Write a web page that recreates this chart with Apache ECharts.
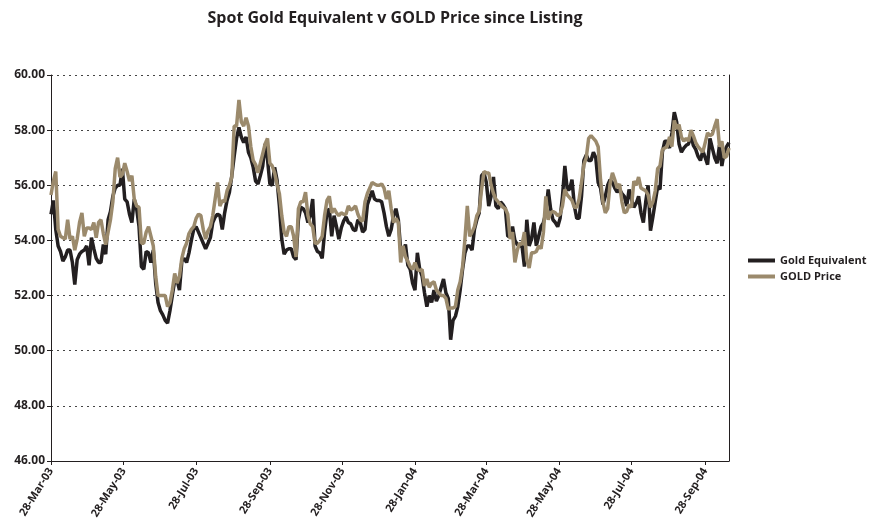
<!DOCTYPE html>
<html>
<head>
<meta charset="utf-8">
<script src="https://cdn.jsdelivr.net/npm/echarts@6/dist/echarts.min.js"></script>
<style>
html,body{margin:0;padding:0;background:#fff;}
#chart{width:870px;height:526px;}
</style>
</head>
<body>
<div id="chart"></div>
<script>
// Sampling: every 2 calendar days starting at listing date
const startDate = '28-Mar-03';
const stepDays = 2;
const endDay = 570;

const tickLabels = ['28-Mar-03','28-May-03','28-Jul-03','28-Sep-03','28-Nov-03','28-Jan-04','28-Mar-04','28-May-04','28-Jul-04','28-Sep-04'];

const goldEquivalent = [
54.95,55.45,54.4,53.8,53.6,53.25,53.4,53.65,53.65,53.2,
52.4,53.3,53.5,53.6,53.65,53.8,53.1,54.1,53.7,53.35,
53.2,53.2,53.85,53.5,54.75,55.05,55.6,55.9,56.0,56.0,
56.6,55.5,55.4,54.95,54.65,55.5,55.15,54.5,53.05,52.95,
53.6,53.55,53.2,53.65,52.45,51.75,51.45,51.3,51.1,51.0,
51.45,52.0,52.55,52.55,52.2,53.25,53.35,53.2,53.55,54.0,
54.4,54.5,54.3,54.1,53.9,53.7,53.9,54.1,54.65,54.85,
54.95,54.9,54.4,55.0,55.45,55.75,56.35,57.05,57.7,58.1,
57.75,57.55,57.75,57.2,57.0,56.65,56.15,56.05,56.35,56.7,
57.5,56.95,56.05,56.0,56.65,56.2,55.25,54.05,53.5,53.65,
53.7,53.7,53.4,53.3,54.75,55.2,55.15,55.0,54.65,54.9,
55.5,53.8,53.6,53.55,53.35,54.3,55.0,55.15,54.15,54.9,
54.5,54.05,54.45,54.7,54.85,54.65,54.6,54.4,54.35,54.75,
54.65,54.3,54.4,55.3,55.55,55.8,55.5,55.45,55.45,55.4,
55.0,54.5,54.15,
54.4,54.9,55.15,54.75,53.65,53.55,53.85,53.1,52.95,52.45,
52.2,53.55,52.95,52.7,52.1,51.6,52.0,51.75,52.2,51.8,
52.0,52.3,52.6,52.1,51.9,50.4,51.1,51.25,51.6,52.2,
52.95,53.55,53.8,53.8,53.65,54.4,54.75,55.0,56.35,56.45,
56.1,55.25,55.6,56.3,55.25,55.15,55.4,55.3,55.15,54.15,
54.15,54.5,54.0,53.85,53.8,53.8,53.05,54.75,53.8,54.05,
54.65,53.8,54.15,54.5,54.65,55.0,55.85,55.15,54.75,54.65,
54.5,54.8,55.6,56.7,55.85,55.85,56.2,55.25,54.8,54.8,
55.6,56.9,57.1,56.9,56.9,57.2,57.0,56.1,55.9,55.3,
55.6,56.0,56.2,56.1,55.9,55.75,55.85,55.7,
55.6,55.25,55.85,55.5,55.2,55.35,55.6,55.0,54.65,55.4,
56.0,54.35,54.85,55.4,55.95,55.85,57.2,57.6,57.6,57.35,
57.9,58.65,58.3,57.5,57.2,57.35,57.45,57.5,57.85,57.45,
57.3,57.05,56.9,57.25,57.0,56.75,57.7,57.35,57.0,56.8,
57.45,56.7,57.2,57.4,57.55
];
const goldPrice = [
55.65,56.15,56.5,54.4,54.15,54.1,54.05,54.75,54.05,54.15,
53.65,54.05,54.65,55.0,54.15,54.45,54.45,54.4,54.65,54.1,
54.65,54.75,54.25,53.85,54.3,54.75,55.4,56.6,57.0,56.3,
56.4,56.8,56.5,56.15,56.35,55.5,55.25,55.2,53.9,53.9,
54.3,54.5,54.15,53.8,52.7,52.0,52.0,52.0,52.0,51.6,
51.75,52.2,52.8,52.45,52.7,53.35,53.7,53.9,54.25,54.4,
54.5,54.8,54.95,54.9,54.4,54.05,54.35,54.5,54.9,55.5,
56.1,55.25,55.45,55.4,55.8,56.0,56.3,58.15,58.15,59.1,
58.3,58.15,58.45,58.15,57.4,56.9,56.75,56.45,56.8,57.15,
57.5,57.7,56.8,56.7,56.45,56.05,55.7,54.9,54.3,54.15,
54.5,54.5,54.15,53.4,55.15,55.4,55.4,55.75,54.9,54.6,
54.5,53.9,53.9,54.0,54.15,54.9,55.45,55.6,55.0,55.15,
55.0,54.9,55.0,54.95,54.95,55.25,55.1,55.15,55.25,54.95,
54.75,54.7,55.4,55.7,55.9,56.1,56.05,56.0,56.0,56.05,
55.9,55.5,55.8,
55.15,54.65,54.8,54.65,53.2,53.8,53.4,53.25,53.05,52.95,
53.2,52.95,52.9,52.95,52.35,52.6,52.3,52.45,52.5,52.2,
52.1,52.0,52.0,51.9,51.5,51.55,51.55,51.6,52.2,52.5,
53.05,54.05,55.25,54.15,54.3,54.5,54.9,55.05,55.85,56.5,
56.45,56.45,56.0,55.7,55.5,55.4,55.3,55.2,55.15,54.95,
54.05,54.3,53.2,53.65,53.9,53.85,54.3,53.3,53.0,53.55,
53.55,53.6,53.8,53.7,54.3,55.6,54.75,55.0,55.05,55.0,
54.9,54.95,55.25,55.85,55.65,55.55,55.45,55.2,55.2,55.5,
56.1,56.75,57.0,57.7,57.8,57.7,57.6,57.4,56.2,55.4,
55.0,55.15,56.05,56.45,56.2,55.9,56.05,55.4,
55.0,55.05,55.3,55.2,56.15,56.0,56.3,55.9,55.85,55.8,
55.65,55.2,55.4,55.8,56.6,56.7,57.3,57.35,57.4,57.75,
57.4,58.35,58.05,58.2,57.75,57.6,57.7,57.6,58.0,57.8,
57.55,57.4,57.3,57.2,57.55,57.9,57.8,57.85,58.15,58.4,
57.4,57.6,57.0,57.05,57.35
];

const MONTHS = {Jan:0,Feb:1,Mar:2,Apr:3,May:4,Jun:5,Jul:6,Aug:7,Sep:8,Oct:9,Nov:10,Dec:11};
function parseDate(s){
  const p = s.split('-');
  return Date.UTC(2000 + parseInt(p[2],10), MONTHS[p[1]], parseInt(p[0],10));
}
const t0 = parseDate(startDate);
const DAY = 86400000;
const tickDays = tickLabels.map(l => Math.round((parseDate(l) - t0) / DAY));
const labelByDay = {};
tickDays.forEach((d,i) => { labelByDay[d] = tickLabels[i]; });

const ge = goldEquivalent.map((v,i) => [i*stepDays, v]);
const gp = goldPrice.map((v,i) => [i*stepDays, v]);

const FONT = 'Open Sans';
const TXT = '#231f20';

const chart = echarts.init(document.getElementById('chart'), null, {renderer:'canvas'});
chart.setOption({
  animation:false,
  backgroundColor:'#ffffff',
  title:{
    text:'Spot Gold Equivalent v GOLD Price since Listing',
    left:390, top:5, textAlign:'center',
    textStyle:{fontFamily:FONT, fontWeight:'bold', fontSize:16, color:TXT}
  },
  legend:{
    orient:'vertical', left:743, top:250,
    icon:'rect', itemWidth:27, itemHeight:4, itemGap:5,
    textStyle:{fontFamily:FONT, fontWeight:'bold', fontSize:11, color:TXT},
    data:['Gold Equivalent','GOLD Price']
  },
  grid:{left:51, right:141, top:75, bottom:65, containLabel:false},
  xAxis:{
    type:'value', min:0, max:endDay,
    axisLine:{show:true, lineStyle:{color:TXT, width:1}},
    axisTick:{show:true, length:4, customValues:tickDays, lineStyle:{color:TXT}},
    splitLine:{show:false},
    axisLabel:{
      customValues:tickDays, rotate:58, margin:8,
      fontFamily:FONT, fontWeight:'bold', fontSize:11, color:TXT,
      formatter:(v) => labelByDay[Math.round(v)] || ''
    }
  },
  yAxis:[{
    type:'value', min:46, max:60, interval:2,
    axisLine:{show:true, lineStyle:{color:TXT, width:1}},
    axisTick:{show:true, length:4, lineStyle:{color:TXT}},
    splitLine:{show:true, lineStyle:{color:'#444', width:1, type:[2,4]}},
    axisLabel:{margin:6, fontFamily:FONT, fontWeight:'bold', fontSize:12, color:TXT,
      formatter:(v) => v.toFixed(2)}
  },{
    type:'value', min:46, max:60, interval:2, position:'right',
    axisLine:{show:true, lineStyle:{color:TXT, width:1}},
    axisTick:{show:false}, axisLabel:{show:false}, splitLine:{show:false}
  }],
  series:[
    {name:'Gold Equivalent', type:'line', data:ge, showSymbol:false, symbol:'none',
     lineStyle:{color:'#231f20', width:3.5}, itemStyle:{color:'#231f20'}},
    {name:'GOLD Price', type:'line', data:gp, showSymbol:false, symbol:'none',
     lineStyle:{color:'#9b8a6c', width:3.5}, itemStyle:{color:'#9b8a6c'}}
  ]
});
</script>
</body>
</html>
